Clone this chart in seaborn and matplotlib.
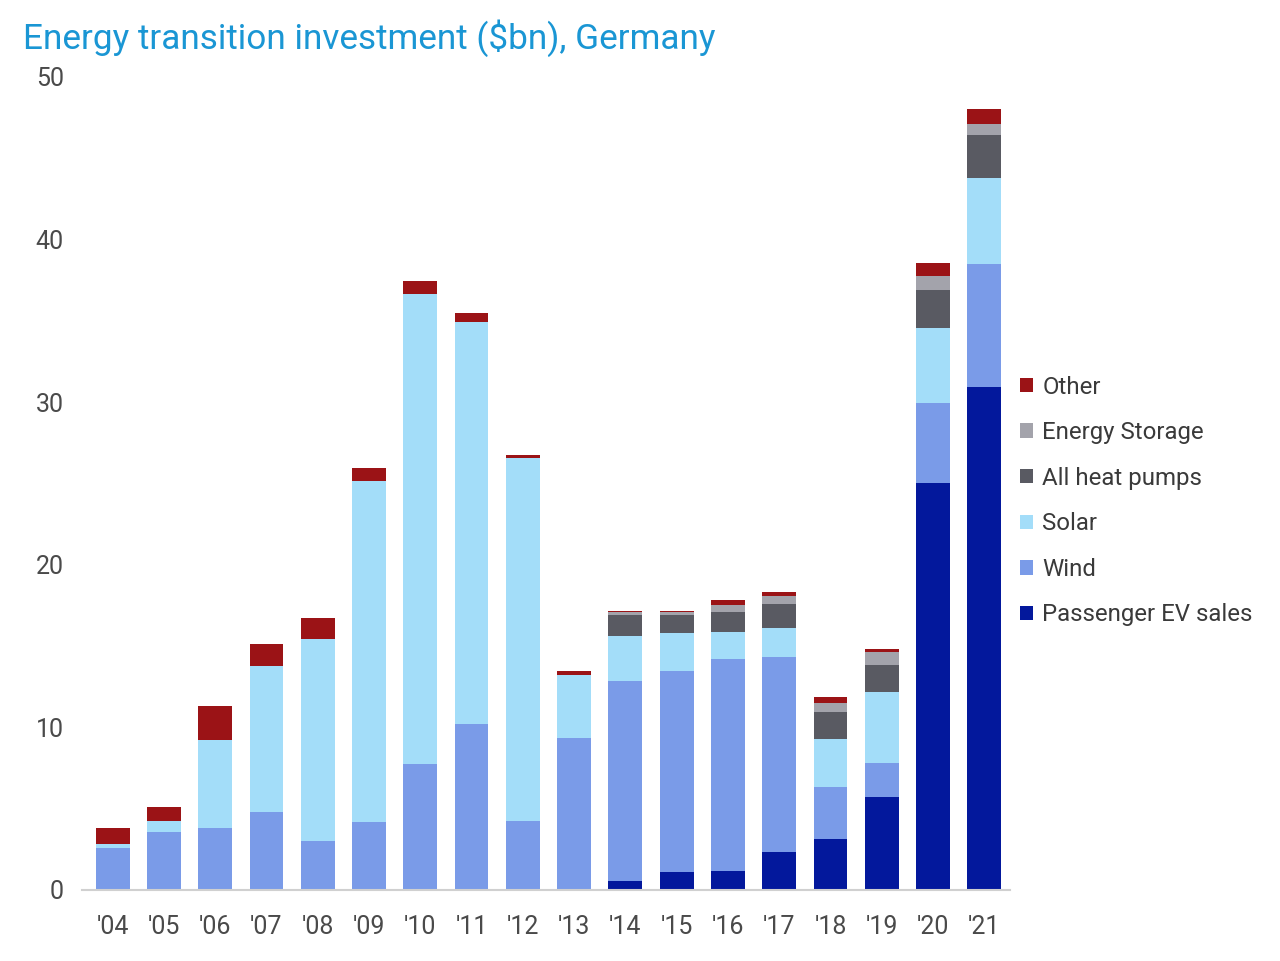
import numpy as np
import pandas as pd
import matplotlib
matplotlib.use("Agg")
import matplotlib.pyplot as plt
import seaborn as sns

# ---------------- data ($bn) ----------------
years = ["'04", "'05", "'06", "'07", "'08", "'09", "'10", "'11", "'12",
         "'13", "'14", "'15", "'16", "'17", "'18", "'19", "'20", "'21"]

ev_sales = [0, 0, 0, 0, 0, 0, 0, 0, 0, 0,
            0.53, 1.07, 1.15, 2.3, 3.12, 5.7, 25.05, 30.92]
wind = [2.6, 3.55, 3.8, 4.8, 3.0, 4.15, 7.75, 10.2, 4.25, 9.35,
        12.34, 12.42, 13.08, 12.05, 3.21, 2.09, 4.92, 7.56]
solar = [0.2, 0.67, 5.4, 8.95, 12.4, 21.0, 28.9, 24.7, 22.3, 3.85,
         2.75, 2.28, 1.62, 1.78, 2.98, 4.37, 4.61, 5.29]
heat_pumps = [0, 0, 0, 0, 0, 0, 0, 0, 0, 0,
              1.31, 1.14, 1.23, 1.48, 1.66, 1.66, 2.32, 2.66]
storage = [0, 0, 0, 0, 0, 0, 0, 0, 0, 0,
           0.15, 0.17, 0.47, 0.47, 0.51, 0.8, 0.88, 0.66]
other = [1.0, 0.9, 2.1, 1.4, 1.3, 0.8, 0.8, 0.6, 0.2, 0.25,
         0.08, 0.1, 0.29, 0.23, 0.37, 0.22, 0.76, 0.92]

series = ["Passenger EV sales", "Wind", "Solar", "All heat pumps",
          "Energy Storage", "Other"]
colors = ["#03189c", "#7a9be8", "#a3ddf9", "#595a62", "#a3a3ab", "#9b1316"]

df = pd.DataFrame({"year": years, "Passenger EV sales": ev_sales,
                   "Wind": wind, "Solar": solar, "All heat pumps": heat_pumps,
                   "Energy Storage": storage, "Other": other})

# cumulative tops, drawn from the tallest down so each layer sits on the next
cum = df[series].cumsum(axis=1)

plt.rcParams["font.family"] = ["Roboto", "DejaVu Sans"]
fig = plt.figure(figsize=(12.8, 9.61), dpi=100)
ax = fig.add_axes([0.064, 0.074, 0.725, 0.846])

for name, col in reversed(list(zip(series, colors))):
    sns.barplot(x=df["year"], y=cum[name], color=col, width=0.66,
                linewidth=0, edgecolor="none", ax=ax, label=name,
                saturation=1)

ax.set_ylim(0, 50)
ax.set_xlim(-0.6, 17.5)
ax.set_yticks([0, 10, 20, 30, 40, 50])
ax.set_xlabel("")
ax.set_ylabel("")
for s in ["top", "right", "left"]:
    ax.spines[s].set_visible(False)
ax.spines["bottom"].set_color("#d0d0d0")
ax.spines["bottom"].set_linewidth(1.5)
ax.tick_params(axis="both", length=0, labelsize=18, labelcolor="#4a4a4a")
ax.tick_params(axis="y", pad=13)
ax.tick_params(axis="x", pad=18)

handles, labels = ax.get_legend_handles_labels()
if ax.get_legend():
    ax.get_legend().remove()
fig.legend(handles, labels, loc="center left",
           bbox_to_anchor=(998 / 1280, 1 - 501 / 961), frameon=False,
           fontsize=17.3, handlelength=0.55, handleheight=0.55,
           handletextpad=0.4, labelspacing=0.94, labelcolor="#3a3a3a")

fig.text(23 / 1280, 1 - 38 / 961, "Energy transition investment ($bn), Germany",
         fontsize=25.3, color="#1a96d4", va="center", ha="left")

fig.savefig("out.png", dpi=100)
